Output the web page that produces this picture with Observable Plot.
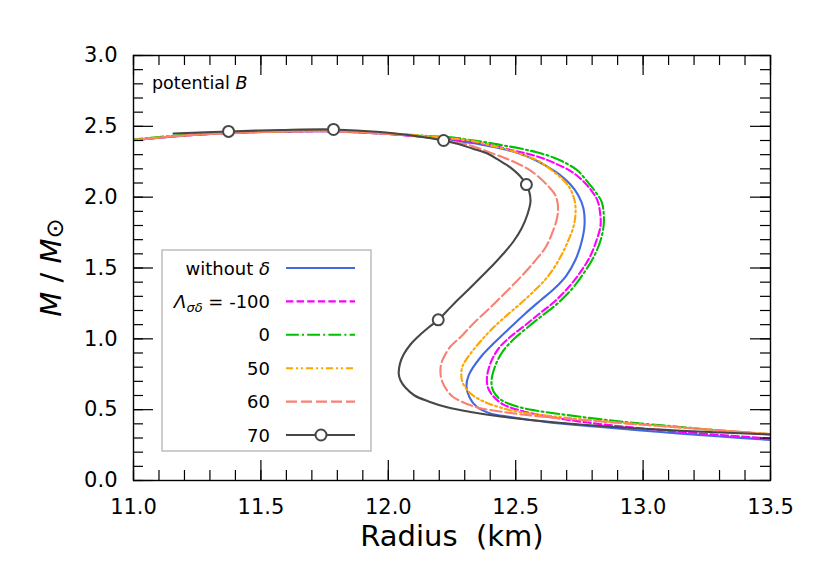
<!DOCTYPE html>
<html><head><meta charset="utf-8">
<script src="https://cdn.jsdelivr.net/npm/d3@7"></script>
<script src="https://cdn.jsdelivr.net/npm/@observablehq/plot@0.6"></script>
<style>body{margin:0;background:#fff;} svg{display:block;}</style>
</head><body><div id="chart"></div>
<script>
// ---- data (Radius km, Mass Msun), ordered along each sequence ----
const rWithout = [13.5,13.304,13.068,12.833,12.625,12.480,12.401,12.346,12.319,12.307,12.315,12.362,12.421,12.480,12.538,12.597,12.652,12.699,12.735,12.758,12.770,12.766,12.746,12.715,12.672,12.617,12.546,12.460,12.362,12.256,12.126,11.969,11.785,11.577,11.373,11.184,11.0];
const mWithout = [0.286,0.311,0.342,0.378,0.412,0.448,0.473,0.522,0.586,0.659,0.741,0.870,0.981,1.082,1.179,1.271,1.355,1.447,1.560,1.680,1.800,1.920,2.012,2.089,2.160,2.223,2.287,2.336,2.372,2.400,2.428,2.449,2.464,2.462,2.453,2.432,2.403];

const rMinus100 = [13.5,13.304,13.041,12.782,12.625,12.519,12.452,12.413,12.391,12.387,12.393,12.409,12.436,12.480,12.531,12.589,12.648,12.703,12.750,12.790,12.817,12.833,12.831,12.821,12.797,12.766,12.719,12.660,12.609,12.550,12.491,12.409,12.323,12.224,12.126,11.969,11.785,11.577,11.373,11.184,11.0];
const mMinus100 = [0.296,0.321,0.360,0.409,0.452,0.494,0.536,0.593,0.656,0.720,0.784,0.861,0.939,1.016,1.087,1.172,1.256,1.355,1.461,1.574,1.694,1.800,1.892,1.976,2.047,2.111,2.181,2.234,2.273,2.305,2.329,2.365,2.393,2.414,2.428,2.449,2.464,2.462,2.453,2.432,2.403];

const rZero = [13.5,13.304,13.147,12.911,12.703,12.578,12.499,12.440,12.413,12.405,12.409,12.425,12.452,12.495,12.546,12.605,12.664,12.719,12.766,12.805,12.833,12.845,12.845,12.837,12.809,12.774,12.743,12.699,12.648,12.586,12.519,12.452,12.389,12.323,12.256,12.126,11.969,11.785,11.577,11.373,11.184,11.0];
const mZero = [0.325,0.353,0.378,0.416,0.462,0.494,0.526,0.572,0.628,0.685,0.748,0.833,0.918,1.002,1.080,1.165,1.249,1.348,1.461,1.574,1.694,1.800,1.892,1.969,2.047,2.125,2.188,2.238,2.280,2.315,2.343,2.365,2.386,2.403,2.421,2.435,2.453,2.467,2.465,2.456,2.437,2.407];

const rFifty = [13.5,13.304,13.068,12.833,12.637,12.519,12.440,12.374,12.323,12.295,12.287,12.291,12.323,12.358,12.401,12.460,12.519,12.574,12.624,12.668,12.703,12.727,12.735,12.731,12.711,12.676,12.633,12.586,12.535,12.480,12.401,12.323,12.224,12.126,11.969,11.785,11.577,11.373,11.184,11.0];
const mFifty = [0.328,0.353,0.385,0.420,0.455,0.482,0.515,0.558,0.614,0.678,0.729,0.805,0.896,0.974,1.059,1.158,1.249,1.341,1.435,1.553,1.680,1.793,1.892,1.976,2.068,2.139,2.202,2.259,2.294,2.329,2.365,2.400,2.418,2.435,2.453,2.466,2.464,2.454,2.434,2.405];

const rSixty = [13.5,13.304,13.068,12.911,12.715,12.558,12.413,12.350,12.295,12.252,12.231,12.213,12.205,12.207,12.218,12.244,12.283,12.338,12.401,12.460,12.519,12.574,12.617,12.644,12.662,12.666,12.656,12.629,12.597,12.558,12.507,12.452,12.389,12.323,12.224,12.126,11.969,11.785,11.577,11.373,11.184,11.0];
const mSixty = [0.328,0.353,0.385,0.406,0.434,0.459,0.494,0.515,0.551,0.593,0.635,0.692,0.753,0.819,0.870,0.946,1.012,1.115,1.223,1.327,1.435,1.546,1.645,1.751,1.849,1.934,2.012,2.075,2.132,2.188,2.238,2.280,2.322,2.365,2.400,2.428,2.449,2.464,2.462,2.453,2.432,2.403];

const rSeventy = [13.5,13.304,13.068,12.833,12.597,12.440,12.323,12.231,12.158,12.103,12.067,12.048,12.041,12.046,12.060,12.087,12.122,12.158,12.196,12.232,12.270,12.315,12.362,12.409,12.452,12.491,12.523,12.546,12.558,12.554,12.542,12.515,12.480,12.436,12.389,12.330,12.275,12.217,12.107,11.969,11.785,11.577,11.373,11.157];
const mSeventy = [0.325,0.339,0.359,0.385,0.420,0.452,0.484,0.517,0.558,0.600,0.656,0.706,0.753,0.826,0.889,0.960,1.024,1.080,1.134,1.200,1.271,1.348,1.433,1.518,1.602,1.687,1.779,1.878,1.969,2.033,2.089,2.153,2.209,2.259,2.308,2.343,2.375,2.400,2.432,2.460,2.478,2.474,2.464,2.449];

const rMarkers = [11.373,11.785,12.217,12.542,12.196];
const mMarkers = [2.464,2.478,2.400,2.089,1.134];

const xMajor = [11.0,11.5,12.0,12.5,13.0,13.5];
const xMinor = [11.0,11.1,11.2,11.3,11.4,11.5,11.6,11.7,11.8,11.9,12.0,12.1,12.2,12.3,12.4,12.5,12.6,12.7,12.8,12.9,13.0,13.1,13.2,13.3,13.4,13.5];
const yMajor = [0.0,0.5,1.0,1.5,2.0,2.5,3.0];
const yMinor = [0.0,0.1,0.2,0.3,0.4,0.5,0.6,0.7,0.8,0.9,1.0,1.1,1.2,1.3,1.4,1.5,1.6,1.7,1.8,1.9,2.0,2.1,2.2,2.3,2.4,2.5,2.6,2.7,2.8,2.9,3.0];

const legendLabels = ["without δ", "Λσδ = -100", "0", "50", "60", "70"];
const colors = ["#4169E1", "#FF00FF", "#00C000", "#FFA500", "#FA8072", "#474747"];
const dashes = [null, "7.4,3.2", "12.8,3.2,2,3.2", "7,3,2,3,2,3", "11,4", null];

const radii = [rWithout, rMinus100, rZero, rFifty, rSixty, rSeventy];
const masses = [mWithout, mMinus100, mZero, mFifty, mSixty, mSeventy];
const series = radii.map((rs, i) => ({
  rows: rs.map((r, j) => ({r, m: masses[i][j]})),
  color: colors[i], dash: dashes[i]
}));
const markerRows = rMarkers.map((r, j) => ({r, m: mMarkers[j]}));

const W = 830, H = 588, ML = 133, MR = 60, MT = 55, MB = 108;
const FW = W - ML - MR, FH = H - MT - MB;
const major = 20, minor = 10;

const marks = [
  ...series.map(s => Plot.line(s.rows, {x: "r", y: "m", stroke: s.color, strokeWidth: 2.1,
      strokeDasharray: s.dash, curve: "catmull-rom", clip: true})),
  Plot.dot(markerRows, {x: "r", y: "m", r: 5.5, fill: "white", stroke: colors[5], strokeWidth: 2}),
  Plot.tickX(xMinor, {x: d => d, insetTop: FH - minor, stroke: "black", strokeWidth: 1.2}),
  Plot.tickX(xMinor, {x: d => d, insetBottom: FH - minor, stroke: "black", strokeWidth: 1.2}),
  Plot.tickX(xMajor, {x: d => d, insetTop: FH - major, stroke: "black", strokeWidth: 1.2}),
  Plot.tickX(xMajor, {x: d => d, insetBottom: FH - major, stroke: "black", strokeWidth: 1.2}),
  Plot.tickY(yMinor, {y: d => d, insetRight: FW - minor, stroke: "black", strokeWidth: 1.2}),
  Plot.tickY(yMinor, {y: d => d, insetLeft: FW - minor, stroke: "black", strokeWidth: 1.2}),
  Plot.tickY(yMajor, {y: d => d, insetRight: FW - major, stroke: "black", strokeWidth: 1.2}),
  Plot.tickY(yMajor, {y: d => d, insetLeft: FW - major, stroke: "black", strokeWidth: 1.2}),
  Plot.frame({stroke: "black", strokeWidth: 1.4}),
  Plot.axisX(xMajor, {tickSize: 0, tickPadding: 19, tickFormat: d => d.toFixed(1), fontSize: 21, label: null}),
  Plot.axisY(yMajor, {tickSize: 0, tickPadding: 16, tickFormat: d => d.toFixed(1), fontSize: 21, label: null}),
  Plot.text(["Radius  (km)"], {frameAnchor: "bottom", dy: 65, text: d => d, fontSize: 29, fill: "black"})
];

const svg = Plot.plot({
  width: W, height: H,
  marginLeft: ML, marginRight: MR, marginTop: MT, marginBottom: MB,
  x: {domain: [11, 13.5]},
  y: {domain: [0, 3]},
  style: {fontFamily: "DejaVu Sans", fontSize: "21px", color: "black", background: "white"},
  marks
});
document.getElementById("chart").appendChild(svg);

const s = d3.select(svg);
// y-axis title
const yt = s.append("text")
  .attr("transform", `translate(51,${MT + FH / 2}) rotate(-90)`)
  .attr("text-anchor", "middle").attr("dominant-baseline", "central")
  .attr("font-family", "DejaVu Sans").attr("font-size", 29).attr("fill", "black");
yt.append("tspan").attr("font-style", "italic").text("M");
yt.append("tspan").text(" / ");
yt.append("tspan").attr("font-style", "italic").text("M");
yt.append("tspan").attr("font-size", 24).attr("dy", 4).text("⊙");

// annotation
const ann = s.append("text").attr("x", 152).attr("y", 89).attr("text-anchor", "start")
  .attr("font-family", "DejaVu Sans").attr("font-size", 17.5).attr("fill", "black");
ann.append("tspan").text("potential ");
ann.append("tspan").attr("font-style", "italic").text("B");

// legend
const lg = s.append("g");
lg.append("rect").attr("x", 162).attr("y", 250).attr("width", 209).attr("height", 201)
  .attr("fill", "white").attr("stroke", "#bdbdbd").attr("stroke-width", 1.5);
const rowY = [268, 301.4, 334.8, 368.2, 401.6, 435];
rowY.forEach((y, i) => {
  lg.append("line").attr("x1", 286).attr("x2", 355).attr("y1", y).attr("y2", y)
    .attr("stroke", colors[i]).attr("stroke-width", 2.1)
    .attr("stroke-dasharray", dashes[i] || null);
  const t = lg.append("text").attr("x", 270).attr("y", y + 6.5).attr("text-anchor", "end")
    .attr("font-family", "DejaVu Sans").attr("font-size", 18).attr("fill", "black");
  if (i === 0) {
    t.append("tspan").text("without ");
    t.append("tspan").attr("font-style", "italic").text("δ");
  } else if (i === 1) {
    t.append("tspan").attr("font-style", "italic").text("Λ");
    t.append("tspan").attr("font-style", "italic").attr("font-size", 13).attr("dy", 4).text("σδ");
    t.append("tspan").attr("dy", -4).text(" = -100");
  } else {
    t.text(legendLabels[i]);
  }
});
lg.append("circle").attr("cx", 321).attr("cy", rowY[5]).attr("r", 5.5)
  .attr("fill", "white").attr("stroke", colors[5]).attr("stroke-width", 2);
</script>
</body></html>
